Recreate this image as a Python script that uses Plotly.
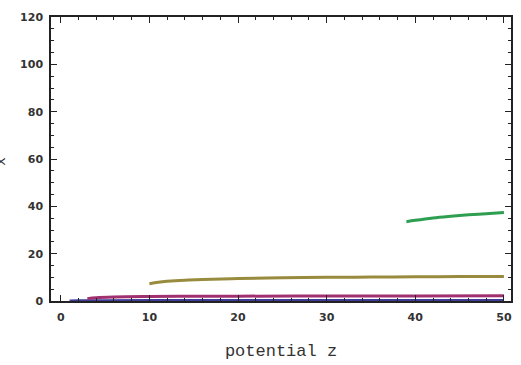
import plotly.graph_objects as go

# Data
z_navy = [1, 2, 5, 10, 20, 30, 40, 50]
v_navy = [0.0, 0.1, 0.15, 0.2, 0.25, 0.25, 0.25, 0.25]

z_mag = [3, 4, 6, 10, 15, 20, 30, 40, 50]
v_mag = [1.0, 1.4, 1.7, 1.9, 2.0, 2.05, 2.1, 2.15, 2.2]

z_olive = [10, 11, 12, 14, 16, 20, 25, 30, 35, 40, 45, 50]
v_olive = [7.3, 7.9, 8.3, 8.8, 9.1, 9.5, 9.8, 10.0, 10.1, 10.2, 10.3, 10.4]

z_green = [39, 40, 42, 44, 46, 48, 50]
v_green = [33.5, 34.1, 35.1, 35.8, 36.4, 36.9, 37.4]

x_ticks = [0, 10, 20, 30, 40, 50]
y_ticks = [0, 20, 40, 60, 80, 100, 120]

series = [
    (z_navy, v_navy, "#3d3d99"),
    (z_mag, v_mag, "#a0306f"),
    (z_olive, v_olive, "#998b3d"),
    (z_green, v_green, "#2e9e50"),
]

fig = go.Figure()
for zs, vs, c in series:
    fig.add_trace(go.Scatter(x=zs, y=vs, mode="lines",
                             line=dict(color=c, width=3, shape="spline"),
                             showlegend=False, hoverinfo="skip"))

tickfont = dict(family="DejaVu Sans", size=11, color="#333333", weight="bold")
fig.update_xaxes(range=[-1.1, 50.8], tickvals=x_ticks, ticktext=[str(t) for t in x_ticks],
                 ticks="inside", ticklen=6, tickwidth=1.3, tickcolor="#222",
                 showline=True, linecolor="#222", linewidth=1.5, mirror="allticks",
                 showgrid=False, zeroline=False, tickfont=tickfont, ticklabelstandoff=5,
                 minor=dict(tickvals=[i for i in range(0, 51, 2) if i % 10], ticks="inside",
                            ticklen=3.5, tickwidth=1.1, tickcolor="#222", showgrid=False),
                 title=dict(text="potential z",
                            font=dict(family="Liberation Mono, Courier New", size=17, color="#333"),
                            standoff=21))
fig.update_yaxes(range=[0, 120], tickvals=y_ticks, ticktext=[str(t) for t in y_ticks],
                 ticks="inside", ticklen=6, tickwidth=1.3, tickcolor="#222",
                 showline=True, linecolor="#222", linewidth=1.5, mirror="allticks",
                 showgrid=False, zeroline=False, tickfont=tickfont, ticklabelstandoff=4,
                 minor=dict(tickvals=[i for i in range(0, 121, 5) if i % 20], ticks="inside",
                            ticklen=3.5, tickwidth=1.1, tickcolor="#222", showgrid=False))

fig.add_annotation(text="x", xref="paper", yref="paper", x=-49 / 462, y=0.49,
                   xanchor="center", yanchor="middle", textangle=-90, showarrow=False,
                   font=dict(family="Liberation Mono, Courier New", size=15, color="#333"))

fig.update_layout(width=521, height=365, margin=dict(l=51, r=8, t=17, b=63),
                  plot_bgcolor="white", paper_bgcolor="white")
fig.write_html("out.html", config={"displayModeBar": False},
               post_script="document.body.style.margin='0';")
